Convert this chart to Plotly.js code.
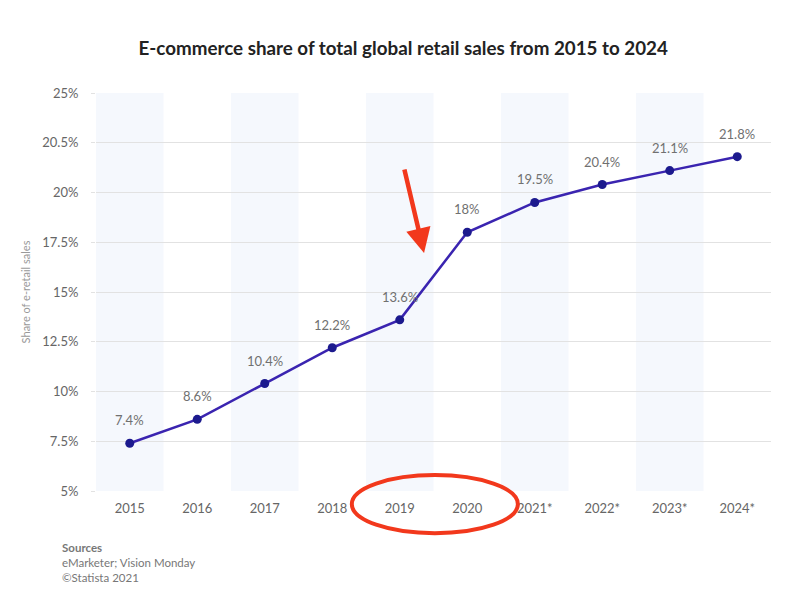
<!DOCTYPE html>
<html>
<head>
<meta charset="utf-8">
<script src="https://cdn.plot.ly/plotly-3.0.1.min.js"></script>
<style>html,body{margin:0;padding:0;background:#fff;}#chart{width:800px;height:607px;}</style>
</head>
<body>
<div id="chart"></div>
<script>
const years = ["2015","2016","2017","2018","2019","2020","2021*","2022*","2023*","2024*"];
const share = [7.4, 8.6, 10.4, 12.2, 13.6, 18, 19.5, 20.4, 21.1, 21.8];
const labels = ["7.4%","8.6%","10.4%","12.2%","13.6%","18%","19.5%","20.4%","21.1%","21.8%"];
const yTickVals = [5, 7.5, 10, 12.5, 15, 17.5, 20, 22.5, 25];
const yTickText = ["5%","7.5%","10%","12.5%","15%","17.5%","20%","20.5%","25%"];
const sources = ["<b>Sources</b>", "eMarketer; Vision Monday", "©Statista 2021"];

const red = '#f2381c';
const shapes = [];
years.forEach((y, i) => {
  if (i % 2 === 0) {
    shapes.push({type:'rect', xref:'x', yref:'paper', x0:i-0.5, x1:i+0.5, y0:0, y1:1,
      fillcolor:'#f5f8fd', line:{width:0}, layer:'below'});
  }
});
shapes.push({type:'circle', xref:'paper', yref:'paper', x0:0.379, x1:0.625, y0:0.04, y1:-0.106,
  line:{color:red, width:4}});

const annotations = years.map((y, i) => ({
  x: i, y: share[i], xref:'x', yref:'y', text: labels[i], showarrow:false,
  yshift: 23, font:{family:'Lato, sans-serif', size:13, color:'#707070'}
}));
annotations.push({x:4.36, y:16.96, xref:'x', yref:'y', ax:-20, ay:-85, showarrow:true,
  arrowhead:2, arrowsize:1.1, arrowwidth:4.5, arrowcolor:red, text:''});
sources.forEach((s, k) => annotations.push({
  xref:'paper', yref:'paper', x:-0.053, y:-0.143 - k*0.037, xanchor:'left', yanchor:'middle',
  text:s, showarrow:false, font:{family:'Lato, sans-serif', size:11.5, color:'#777'}
}));

const trace = {
  x: years, y: share, type:'scatter', mode:'lines+markers',
  line:{color:'#3a24b0', width:2.5},
  marker:{color:'#1c1a8e', size:9},
  hoverinfo:'none'
};

const layout = {
  width:800, height:607,
  margin:{l:96, r:29, t:93, b:116},
  paper_bgcolor:'#fff', plot_bgcolor:'rgba(0,0,0,0)',
  showlegend:false,
  title:{text:'<b>E-commerce share of total global retail sales from 2015 to 2024</b>',
    x:0.504, xanchor:'center', y:0.921, yanchor:'middle',
    font:{family:'Lato, sans-serif', size:18.8, color:'#222'}},
  xaxis:{type:'category', range:[-0.5, 9.5], showgrid:false, zeroline:false,
    showline:false, ticks:'', ticklabelstandoff:8,
    tickfont:{family:'Lato, sans-serif', size:13, color:'#666'}},
  yaxis:{range:[5, 25], tickvals:yTickVals, ticktext:yTickText, showgrid:true,
    gridcolor:'#e2e2e2', gridwidth:1, zeroline:false, showline:false,
    ticks:'outside', ticklen:4, tickcolor:'#e2e2e2', ticklabelstandoff:10,
    tickfont:{family:'Lato, sans-serif', size:13, color:'#666'},
    title:{text:'Share of e-retail sales', standoff:9,
      font:{family:'Lato, sans-serif', size:11, color:'#999'}}},
  shapes: shapes,
  annotations: annotations
};

Plotly.newPlot('chart', [trace], layout, {displayModeBar:false, staticPlot:true});
</script>
</body>
</html>
